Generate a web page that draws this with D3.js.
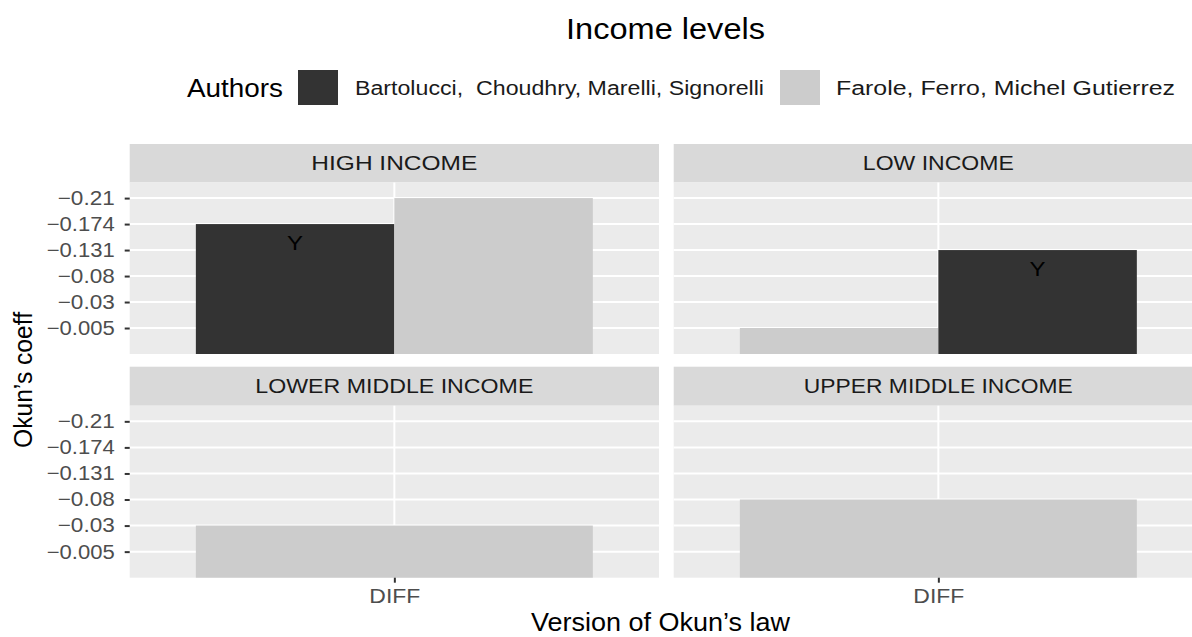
<!DOCTYPE html>
<html>
<head>
<meta charset="utf-8">
<script src="https://cdn.jsdelivr.net/npm/d3@7"></script>
<style>
  html, body { margin: 0; padding: 0; background: #ffffff; overflow: hidden; }
  svg { display: block; font-family: "Liberation Sans", Arial, Helvetica, sans-serif; }
</style>
</head>
<body>
<svg id="chart" width="1192" height="637"></svg>
<script>
// ---------------- data ----------------
const incomeLevels = ["HIGH INCOME", "LOW INCOME", "LOWER MIDDLE INCOME", "UPPER MIDDLE INCOME"];
const authors = ["Bartolucci,  Choudhry, Marelli, Signorelli", "Farole, Ferro, Michel Gutierrez"];
const coeffLevels = ["-0.005", "-0.03", "-0.08", "-0.131", "-0.174", "-0.21"];
const versions = ["DIFF"];
const bartolucciCoeff = [-0.174, -0.131, null, null];
const faroleCoeff = [-0.21, -0.005, -0.03, -0.08];
const bartolucciLabel = ["Y", "Y", null, null];
const faroleLabel = [null, null, null, null];
const fillColors = ["#333333", "#cccccc"];

// ---------------- layout ----------------
const svg = d3.select("#chart");
const colX = [[129.7, 659], [673.7, 1203]];
const stripY = [[144, 182.5], [366.7, 405.7]];
const panelY = [[182.5, 354], [405.7, 577.7]];
const stripTextW = [166, 151, 278, 269];

const fill = d3.scaleOrdinal().domain(authors).range(fillColors);
const levelIndex = v => coeffLevels.indexOf(String(v)) + 1;
const minus = s => s.replace("-", "\u2212");

function fitText(sel, w) {
  sel.attr("textLength", w).attr("lengthAdjust", "spacingAndGlyphs");
}

incomeLevels.forEach((lvl, i) => {
  const col = i % 2, row = Math.floor(i / 2);
  const [x0, x1] = colX[col];
  const [py0, py1] = panelY[row];
  const [sy0, sy1] = stripY[row];

  const x = d3.scaleLinear().domain([0.4, 1.6]).range([x0, x1]);
  const y = d3.scaleLinear().domain([0, coeffLevels.length + 0.6]).range([py1, py0]);

  // strip
  svg.append("rect").attr("x", x0).attr("y", sy0).attr("width", x1 - x0).attr("height", sy1 - sy0)
    .attr("fill", "#d9d9d9");
  svg.append("text").attr("x", (x0 + x1) / 2).attr("y", (sy0 + sy1) / 2 + 7.2)
    .attr("text-anchor", "middle").attr("font-size", 20).attr("fill", "#1a1a1a")
    .text(lvl).call(fitText, stripTextW[i]);

  // panel background
  svg.append("rect").attr("x", x0).attr("y", py0).attr("width", x1 - x0).attr("height", py1 - py0)
    .attr("fill", "#ebebeb");

  const g = svg.append("g");
  // grid lines
  g.selectAll("line.hg").data(coeffLevels).join("line")
    .attr("x1", x0).attr("x2", x1)
    .attr("y1", (d, k) => y(k + 1)).attr("y2", (d, k) => y(k + 1))
    .attr("stroke", "#ffffff").attr("stroke-width", 2);
  g.selectAll("line.vg").data(versions).join("line")
    .attr("x1", x(1)).attr("x2", x(1)).attr("y1", py0).attr("y2", py1)
    .attr("stroke", "#ffffff").attr("stroke-width", 2);

  // bars (dodged, group order by discrete y level)
  let rows = [];
  if (bartolucciCoeff[i] !== null) rows.push({ a: authors[0], v: bartolucciCoeff[i], lab: bartolucciLabel[i] });
  if (faroleCoeff[i] !== null) rows.push({ a: authors[1], v: faroleCoeff[i], lab: faroleLabel[i] });
  rows.forEach(r => r.k = levelIndex(r.v));
  rows.sort((a, b) => a.k - b.k);
  const n = rows.length, bw = 0.9 / n;
  rows.forEach((r, j) => { r.xs = 1 - 0.45 + j * bw; r.xe = r.xs + bw; });

  g.selectAll("rect.bar").data(rows).join("rect")
    .attr("x", d => x(d.xs)).attr("width", d => x(d.xe) - x(d.xs))
    .attr("y", d => y(d.k)).attr("height", d => y(0) - y(d.k))
    .attr("fill", d => fill(d.a));

  g.selectAll("text.lab").data(rows.filter(d => d.lab)).join("text")
    .attr("x", d => x((d.xs + d.xe) / 2)).attr("y", d => y(d.k) + 19 + 7.2)
    .attr("text-anchor", "middle").attr("font-size", 20).attr("fill", "#000000")
    .text(d => d.lab).call(fitText, 16);

  // y axis (left column)
  if (col === 0) {
    const ya = svg.append("g").attr("transform", `translate(${x0},0)`)
      .call(d3.axisLeft(y).tickValues(d3.range(1, coeffLevels.length + 1))
        .tickFormat(k => minus(coeffLevels[k - 1])).tickSize(5).tickPadding(10));
    ya.select(".domain").remove();
    ya.selectAll(".tick line").attr("stroke", "#333333").attr("stroke-width", 2);
    ya.selectAll(".tick text").attr("font-size", 20).attr("fill", "#4d4d4d")
      .attr("font-family", "Liberation Sans, Arial, sans-serif")
      .each(function(k) {
        const w = coeffLevels[k - 1].length >= 6 ? 68 : 57;
        d3.select(this).attr("textLength", w).attr("lengthAdjust", "spacingAndGlyphs");
      });
  }
  // x axis (bottom row)
  if (row === 1) {
    const xa = svg.append("g").attr("transform", `translate(0,${py1})`)
      .call(d3.axisBottom(x).tickValues([1]).tickFormat(() => versions[0]).tickSize(5).tickPadding(6));
    xa.select(".domain").remove();
    xa.selectAll(".tick line").attr("stroke", "#333333").attr("stroke-width", 2);
    xa.selectAll(".tick text").attr("font-size", 20).attr("fill", "#4d4d4d")
      .attr("font-family", "Liberation Sans, Arial, sans-serif")
      .attr("dy", null).attr("y", 25.5)
      .call(fitText, 51);
  }
});

// axis titles
svg.append("text").attr("x", 660.5).attr("y", 631).attr("text-anchor", "middle")
  .attr("font-size", 25).attr("fill", "#000").text("Version of Okun\u2019s law").call(fitText, 259);
svg.append("text").attr("transform", "translate(32,380) rotate(-90)").attr("text-anchor", "middle")
  .attr("font-size", 25).attr("fill", "#000").text("Okun\u2019s coeff").call(fitText, 136);

// title
svg.append("text").attr("x", 665.5).attr("y", 39).attr("text-anchor", "middle")
  .attr("font-size", 29).attr("fill", "#000").text("Income levels").call(fitText, 199);

// legend
svg.append("text").attr("x", 187).attr("y", 96.5).attr("font-size", 25).attr("fill", "#000")
  .text("Authors").call(fitText, 96);
const keyX = [298, 780], labX = [355, 836], labW = [409, 339];
const lg = svg.append("g").selectAll("g").data(authors).join("g");
lg.append("rect").attr("x", (d, k) => keyX[k]).attr("y", 70).attr("width", 40).attr("height", 35)
  .attr("fill", d => fill(d));
lg.append("text").attr("x", (d, k) => labX[k]).attr("y", 94.5).attr("font-size", 20).attr("fill", "#1a1a1a")
  .style("white-space", "pre").attr("xml:space", "preserve")
  .text(d => d).each(function(d, k) { d3.select(this).call(fitText, labW[k]); });
</script>
</body>
</html>
